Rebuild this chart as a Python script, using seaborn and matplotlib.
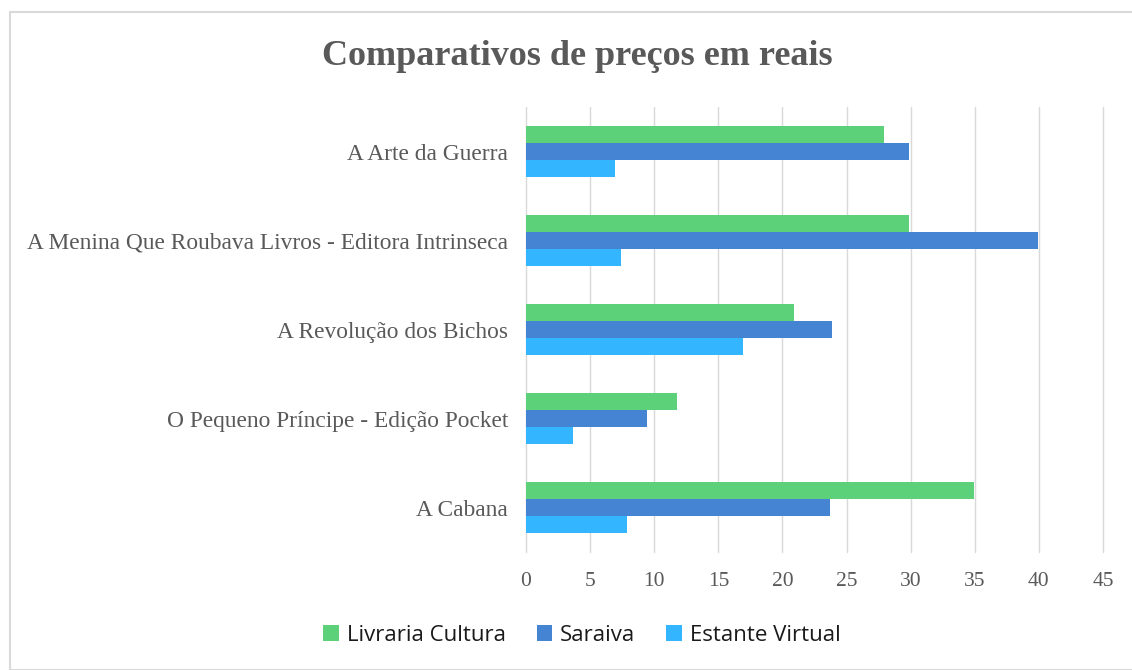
import pandas as pd
import seaborn as sns
import matplotlib.pyplot as plt
from matplotlib.patches import Rectangle

# ============ DATA ============
livros = [
    "A Arte da Guerra",
    "A Menina Que Roubava Livros - Editora Intrinseca",
    "A Revolução dos Bichos",
    "O Pequeno Príncipe - Edição Pocket",
    "A Cabana",
]
lojas = ["Livraria Cultura", "Saraiva", "Estante Virtual"]
livraria_cultura = [27.9, 29.9, 20.9, 11.8, 34.9]
saraiva = [29.9, 39.9, 23.9, 9.4, 23.7]
estante_virtual = [6.9, 7.4, 16.9, 3.7, 7.9]
cores = ["#5CD17A", "#4584D3", "#33B5FF"]

df = pd.DataFrame({
    "livro": livros * 3,
    "loja": [lojas[0]] * 5 + [lojas[1]] * 5 + [lojas[2]] * 5,
    "preco": livraria_cultura + saraiva + estante_virtual,
})

# ============ PLOT ============
sns.set_style("white")
fig = plt.figure(figsize=(11.32, 6.70), dpi=100)
ax = fig.add_axes([0.4647, 0.176, 0.5097, 0.664])

sns.barplot(data=df, y="livro", x="preco", hue="loja", order=livros,
            hue_order=lojas, palette=cores, width=0.58, orient="h",
            saturation=1, linewidth=0, ax=ax, legend=True)

ax.set_xlim(0, 45)
ax.set_ylim(4.5, -0.5)
ax.set_xticks(range(0, 46, 5))
ax.xaxis.grid(True, color="#D9D9D9", linewidth=1)
for gl in ax.get_xgridlines():
    gl.set_clip_on(False)
ax.set_axisbelow(True)
for s in ax.spines.values():
    s.set_visible(False)
ax.tick_params(axis="both", length=0)
ax.tick_params(axis="x", pad=14)
ax.tick_params(axis="y", pad=13)
ax.set_xlabel("")
ax.set_ylabel("")
for lbl in ax.get_xticklabels():
    lbl.set_fontfamily("Liberation Serif")
    lbl.set_fontsize(15.5)
    lbl.set_color("#595959")
for lbl in ax.get_yticklabels():
    lbl.set_fontfamily("Liberation Serif")
    lbl.set_fontsize(16.8)
    lbl.set_color("#595959")

leg = ax.legend(loc="center", bbox_to_anchor=(0.514, 0.052),
                bbox_transform=fig.transFigure, ncol=3, frameon=False,
                prop={"family": "Open Sans", "size": 16},
                handlelength=0.7, handleheight=0.7, handletextpad=0.35,
                columnspacing=1.4)
for t in leg.get_texts():
    t.set_color("#1a1a1a")

fig.text(0.51, 0.915, "Comparativos de preços em reais", ha="center", va="center",
         fontfamily="Liberation Serif", fontsize=26, fontweight="bold",
         color="#595959")

# moldura do gráfico
fig.patches.append(Rectangle((10 / 1132, 0), 1.0, 1 - 12 / 670,
                             transform=fig.transFigure, fill=False,
                             edgecolor="#D9D9D9", linewidth=1.5))

fig.set_facecolor("white")
plt.savefig("out.png", dpi=100)
plt.close()
